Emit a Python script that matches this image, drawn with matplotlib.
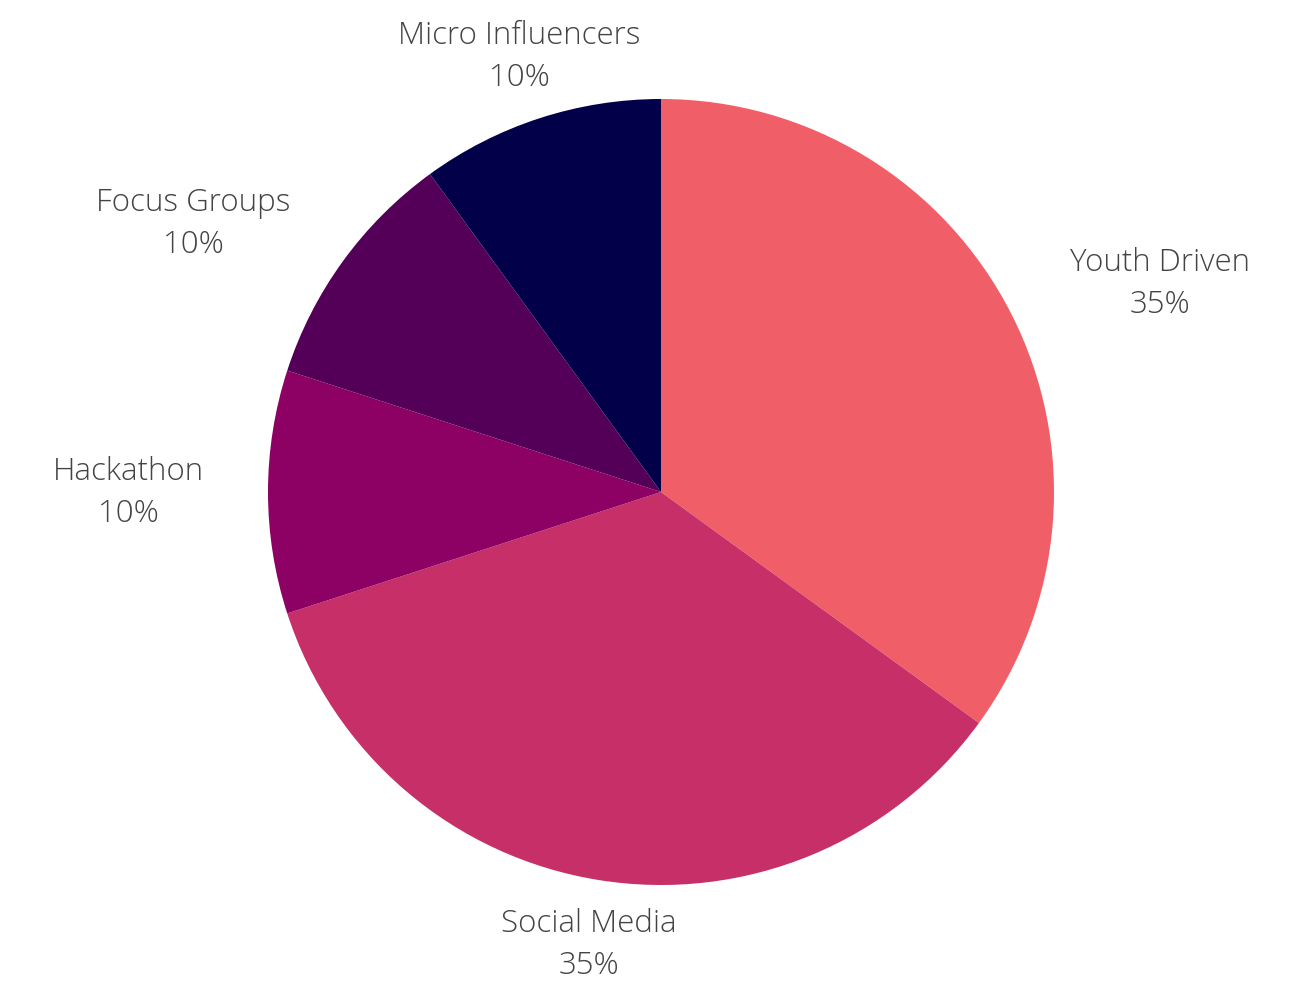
import matplotlib.pyplot as plt

categories = ["Youth Driven", "Social Media", "Hackathon", "Focus Groups", "Micro Influencers"]
shares = [35, 35, 10, 10, 10]
colors = ["#F05F67", "#C62F67", "#8D0064", "#540059", "#03004A"]

# label anchor points in pixel coordinates (x, y from top)
label_px = [(1160, 284), (589, 945), (128, 493), (193, 224), (519, 57)]

W, H = 1301, 983
cx, cy, r = 661, 492, 393

fig = plt.figure(figsize=(W / 100, H / 100), dpi=100)
ax = fig.add_axes([0, 0, 1, 1])

ax.pie(shares, colors=colors, startangle=90, counterclock=False,
       radius=1, wedgeprops=dict(linewidth=0))

ax.set_xlim(-cx / r, (W - cx) / r)
ax.set_ylim(-(H - cy) / r, cy / r)
ax.set_aspect("equal")
ax.axis("off")

for name, val, (px, py) in zip(categories, shares, label_px):
    x = (px - cx) / r
    y = (cy - py) / r
    ax.text(x, y, f"{name}\n{val}%", ha="center", va="center",
            fontsize=22.5, family="Open Sans", fontweight="light",
            color="#444444", linespacing=1.45)

fig.savefig("out.png", dpi=100, facecolor="white")
